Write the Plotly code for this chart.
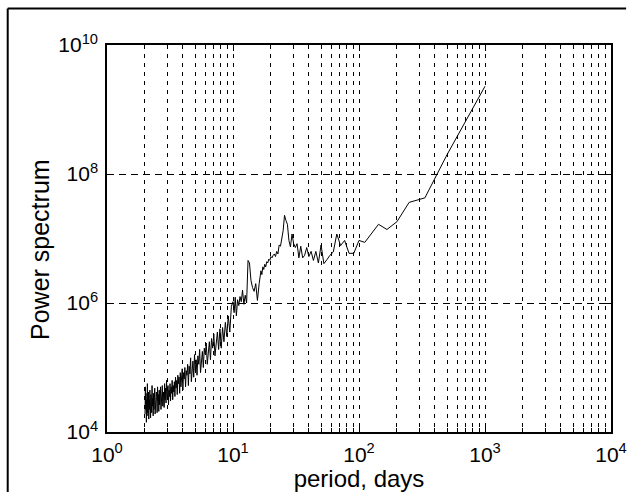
import plotly.graph_objects as go

# Record length (days): periods are record_length / harmonic number
record_length = 1000

# Harmonics 1..60 (periods 1000 .. 16.7 days), log10 of power
harmonics_a = list(range(1, 61))
log_power_a = [
    9.36, 8.30, 7.63, 7.56, 7.26, 7.14, 7.22, 7.08, 6.94, 6.97,
    6.77, 6.77, 6.97, 6.89, 7.07, 6.79, 6.74, 6.67, 6.61, 6.90,
    6.62, 6.80, 6.66, 6.80, 6.72, 6.86, 6.74, 6.70, 6.88, 6.70,
    6.92, 6.86, 6.92, 7.07, 6.87, 6.97, 7.22, 7.28, 7.36, 7.12,
    6.96, 6.88, 6.90, 6.76, 6.80, 6.72, 6.76, 6.74, 6.70, 6.72,
    6.66, 6.68, 6.62, 6.64, 6.56, 6.60, 6.52, 6.56, 6.44, 6.50,
]

# Harmonics 62..100 step 2 (periods 16.1 .. 10 days)
harmonics_b = list(range(62, 101, 2))
log_power_b = [
    6.30, 6.04, 6.30, 6.18, 6.24, 6.35, 6.62, 6.66, 6.00, 6.12,
    5.98, 6.20, 6.02, 6.10, 5.96, 6.05, 5.80, 6.09, 5.85, 6.02,
]

# Harmonics 103..499 step 3 (periods 9.7 .. 2 days)
harmonics_c = list(range(103, 500, 3))
log_power_c = [
    5.95, 5.55, 5.80, 5.48, 5.70, 5.40, 5.62, 5.30,
    5.60, 5.28, 5.55, 5.35, 5.18, 5.52, 5.30, 5.45, 5.12, 5.40,
    5.22, 5.05, 5.38, 5.20, 5.30, 5.00, 5.25, 5.10, 4.92, 5.28,
    5.05, 5.18, 4.88, 5.12, 4.95,
    5.20, 4.85, 5.10, 4.95, 4.78, 5.15, 4.90, 5.02, 4.72, 5.05,
    4.88, 4.95, 4.70, 5.00, 4.82, 4.92, 4.65, 4.98, 4.80, 4.70,
    4.92, 4.60, 4.85, 4.75, 4.88, 4.58, 4.80, 4.68, 4.85, 4.55,
    4.78, 4.62, 4.72, 4.50, 4.80, 4.60, 4.70, 4.48, 4.75, 4.55,
    4.65, 4.42, 4.72, 4.52, 4.60,
    4.80, 4.45, 4.68, 4.50, 4.75, 4.38, 4.62, 4.55, 4.40, 4.72,
    4.48, 4.60, 4.35, 4.70, 4.50, 4.42, 4.65, 4.32, 4.58, 4.48,
    4.70, 4.30, 4.55, 4.62, 4.38, 4.50, 4.28, 4.68, 4.45, 4.35,
    4.60, 4.25, 4.52, 4.40, 4.72, 4.30, 4.48, 4.58, 4.22, 4.45,
    4.65, 4.35, 4.50, 4.20, 4.62, 4.40, 4.30, 4.75, 4.25, 4.50,
    4.15, 4.60, 4.35, 4.70, 4.28,
]

x_tick_vals = [1, 10, 100, 1000, 10000]
x_tick_text = ["10<sup>0</sup>", "10<sup>1</sup>", "10<sup>2</sup>", "10<sup>3</sup>", "10<sup>4</sup>"]
x_minor_vals = [m * d for d in (1, 10, 100, 1000) for m in range(2, 10)]
y_tick_vals = [1e4, 1e6, 1e8, 1e10]
y_tick_text = ["10<sup>4</sup>", "10<sup>6</sup>", "10<sup>8</sup>", "10<sup>10</sup>"]

harmonics = harmonics_a + harmonics_b + harmonics_c
log_power = log_power_a + log_power_b + log_power_c
assert len(harmonics) == len(log_power)
period = [record_length / k for k in harmonics]
power = [10 ** v for v in log_power]

FONT = "Liberation Sans, Arial, sans-serif"

fig = go.Figure()
fig.add_trace(go.Scatter(
    x=period, y=power, mode="lines",
    line=dict(color="black", width=1),
    showlegend=False, hoverinfo="x+y",
))

fig.update_layout(
    width=628, height=492,
    margin=dict(l=107, r=17, t=45, b=60, autoexpand=False),
    paper_bgcolor="white", plot_bgcolor="white",
    font=dict(family=FONT, color="black", size=21),
    xaxis=dict(
        type="log", range=[0, 4],
        tickmode="array", tickvals=x_tick_vals, ticktext=x_tick_text,
        ticks="inside", ticklen=6, tickwidth=1, tickcolor="black",
        ticklabelstandoff=3,
        showline=True, linecolor="black", linewidth=1.5, mirror="ticks",
        showgrid=True, gridcolor="black", gridwidth=1, griddash="4px,5px",
        minor=dict(tickvals=x_minor_vals, ticks="inside", ticklen=4,
                   tickcolor="black", showgrid=True, gridcolor="black",
                   gridwidth=1, griddash="4px,5px"),
        zeroline=False,
        tickfont=dict(family=FONT, size=21, color="black"),
        title=dict(text="period, days", font=dict(family=FONT, size=24, color="black"),
                   standoff=0),
        automargin=False,
    ),
    yaxis=dict(
        type="log", range=[4, 10],
        tickmode="array", tickvals=y_tick_vals, ticktext=y_tick_text,
        ticks="inside", ticklen=6, tickwidth=1, tickcolor="black",
        ticklabelstandoff=3,
        showline=True, linecolor="black", linewidth=1.5, mirror="ticks",
        showgrid=True, gridcolor="black", gridwidth=1, griddash="7px,5px",
        zeroline=False,
        tickfont=dict(family=FONT, size=21, color="black"),
        automargin=False,
    ),
    annotations=[dict(text="Power spectrum", textangle=-90, showarrow=False,
                      xref="paper", yref="paper",
                      x=(40 - 107) / 504, y=(432 - 250) / 387,
                      xanchor="center", yanchor="middle",
                      font=dict(family=FONT, size=25, color="black"))],
    shapes=[
        dict(type="line", xref="paper", yref="paper",
             x0=-0.197, x1=-0.197, y0=-0.3, y1=1.094,
             line=dict(color="black", width=2), layer="above"),
        dict(type="line", xref="paper", yref="paper",
             x0=-0.197, x1=1.03, y0=1.094, y1=1.094,
             line=dict(color="black", width=2), layer="above"),
    ],
)

fig.write_html("out.html")
